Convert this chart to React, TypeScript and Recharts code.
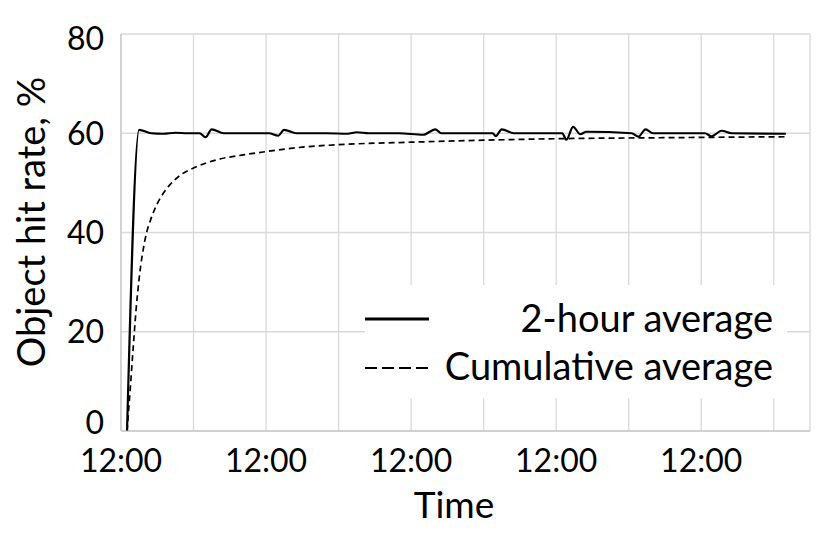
import { LineChart, Line, XAxis, YAxis, CartesianGrid, Legend, Label } from 'recharts';

// hours since the first 12:00 mark
const solidHours = [1, 3, 5, 7, 9, 11, 13, 14, 15, 17, 20, 24.5, 26, 27, 29, 34, 37.5, 39, 41, 46, 50, 52, 53, 61.5, 62, 63, 65, 73, 73.7, 74.8, 76, 77, 84.5, 85.6, 86.8, 88, 96.6, 97.7, 99.4, 101, 110];
const solidValues = [0, 60.7, 60.0, 59.9, 60.1, 60.0, 60.0, 59.2, 60.8, 60.0, 60.0, 60.0, 59.5, 60.7, 60.0, 60.0, 59.9, 60.2, 60.0, 60.0, 59.7, 60.8, 60.0, 60.0, 59.4, 60.8, 60.0, 60.0, 58.7, 61.3, 59.8, 60.3, 60.0, 59.3, 60.8, 60.0, 60.0, 59.4, 60.5, 60.0, 59.9];

const cumHours = [1, 1.5, 2, 2.5, 3, 4, 5, 6, 7, 8, 10, 12, 16, 20, 24, 30, 36, 48, 60, 72, 90, 110];
const cumValues = [0, 8, 16.5, 24.5, 30.7, 38.7, 42.9, 45.8, 47.9, 49.5, 51.7, 53, 54.7, 55.6, 56.3, 57.2, 57.7, 58.2, 58.6, 58.9, 59.1, 59.3];

const xTicks = [0, 12, 24, 36, 48, 60, 72, 84, 96, 108];
const xLabels = ['12:00', '', '12:00', '', '12:00', '', '12:00', '', '12:00', ''];
const yTicks = [0, 20, 40, 60, 80];

const seriesNames = ['2-hour average', 'Cumulative average'];

const FONT = 'Lato, "Open Sans", sans-serif';

const solidData = solidHours.map((h, i) => ({ h, v: solidValues[i] }));
const cumData = cumHours.map((h, i) => ({ h, v: cumValues[i] }));

// y labels sit a little off their gridlines at the ends, like the original
function YTick({ x, y, payload }: any) {
  const shift = payload.value === 0 ? -8 : payload.value === 80 ? 5 : 0;
  return (
    <text x={x} y={y + shift} dy='0.355em' textAnchor='end' fontFamily={FONT} fontSize={32} fill='#000'>
      {payload.value}
    </text>
  );
}

function LegendBox({ payload }: any) {
  const items = payload || [];
  return (
    <div style={{ background: '#fff', width: 422, height: 113 }}>
      <svg width={422} height={113}>
        {items.map((p: any, i: number) => {
          const ly = i === 0 ? 34 : 83;
          const ty = i === 0 ? 47 : 95;
          return (
            <g key={p.value}>
              <line
                x1={0}
                x2={i === 0 ? 64 : 66}
                y1={ly}
                y2={ly}
                stroke='#000'
                strokeWidth={i === 0 ? 3 : 2}
                strokeDasharray={i === 0 ? undefined : '12 5'}
              />
              <text x={408} y={ty} textAnchor='end' fontFamily={FONT} fontSize={38} fill='#000'>
                {p.value}
              </text>
            </g>
          );
        })}
      </svg>
    </div>
  );
}

export default function App() {
  return (
    <div style={{ width: 822, height: 528 }}>
      <LineChart width={822} height={528} margin={{ top: 26, right: 20, bottom: 45, left: 0 }}>
        <CartesianGrid stroke='#d9d9d9' strokeWidth={1.3} horizontal vertical />
        <XAxis
          type='number'
          dataKey='h'
          domain={[0, 114]}
          ticks={xTicks}
          tickFormatter={(v: number) => xLabels[xTicks.indexOf(v)] ?? ''}
          height={60}
          stroke='#bfbfbf'
          tickLine={false}
          tickSize={0}
          tickMargin={18}
          tick={{ fill: '#000', fontSize: 32, fontFamily: FONT }}
          allowDuplicatedCategory={false}
        >
          <Label
            content={() => (
              <text x={446} y={510} textAnchor='middle' fontFamily={FONT} fontSize={37} fill='#000'>
                Time
              </text>
            )}
          />
        </XAxis>
        <YAxis
          type='number'
          domain={[0, 80]}
          ticks={yTicks}
          width={113}
          stroke='#bfbfbf'
          tickLine={false}
          tickSize={0}
          tickMargin={17}
          tick={<YTick />}
        >
          <Label
            content={() => (
              <text
                x={37}
                y={214}
                textAnchor='middle'
                fontFamily={FONT}
                fontSize={38}
                fill='#000'
                transform='rotate(-90 37 214)'
              >
                Object hit rate, %
              </text>
            )}
          />
        </YAxis>
        <Legend
          layout='horizontal'
          verticalAlign='middle'
          align='center'
          content={<LegendBox />}
          wrapperStyle={{ left: 357, top: 277, width: 422, height: 113 }}
        />
        <Line
          data={solidData}
          dataKey='v'
          name={seriesNames[0]}
          type='monotone'
          stroke='#000'
          strokeWidth={2.2}
          dot={false}
          isAnimationActive={false}
        />
        <Line
          data={cumData}
          dataKey='v'
          name={seriesNames[1]}
          type='monotone'
          stroke='#000'
          strokeWidth={1.7}
          strokeDasharray='6 4'
          dot={false}
          isAnimationActive={false}
        />
      </LineChart>
    </div>
  );
}
